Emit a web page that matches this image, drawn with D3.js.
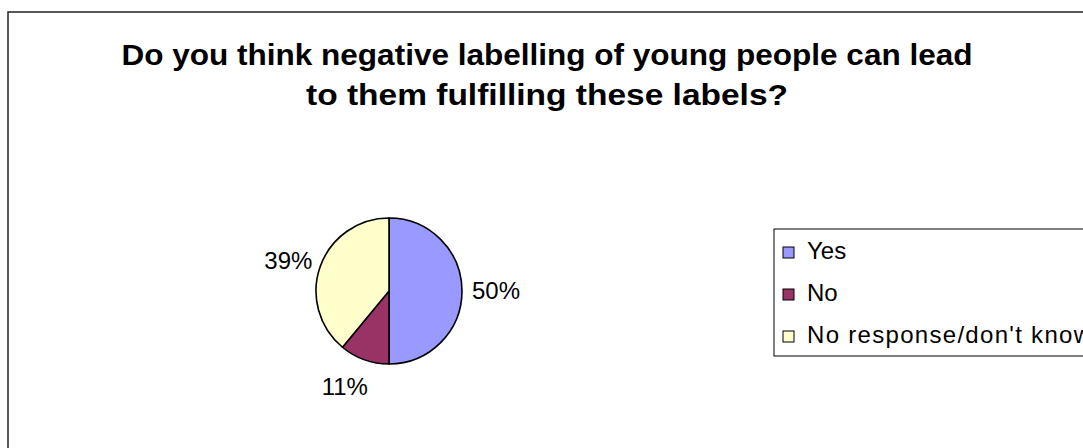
<!DOCTYPE html>
<html>
<head>
<meta charset="utf-8">
<script src="https://cdn.jsdelivr.net/npm/d3@7"></script>
<style>
  html, body { margin: 0; padding: 0; background: #fff; }
  svg { display: block; }
  text { font-family: "Liberation Sans", Arial, Helvetica, sans-serif; fill: #000; }
</style>
</head>
<body>
<svg id="chart" width="1083" height="448"></svg>
<script>
// Survey responses
const categories = ["Yes", "No", "No response/don't know"];
const values = [50, 11, 39];
const colors = ["#9999FF", "#993366", "#FFFFCC"];
const titleLines = [
  "Do you think negative labelling of young people can lead",
  "to them fulfilling these labels?"
];
// rendered widths of the two title lines
const titleWidths = [851, 482];

const svg = d3.select("#chart");

// Chart area frame (runs off the right and bottom edges)
svg.append("rect")
  .attr("x", 8).attr("y", 12)
  .attr("width", 1200).attr("height", 600)
  .attr("fill", "#fff")
  .attr("stroke", "#222")
  .attr("stroke-width", 1.5);

// Title
svg.append("g")
  .selectAll("text")
  .data(titleLines)
  .join("text")
  .attr("x", 547)
  .attr("y", (d, i) => 65 + i * 40)
  .attr("text-anchor", "middle")
  .attr("textLength", (d, i) => titleWidths[i])
  .attr("lengthAdjust", "spacingAndGlyphs")
  .style("font-weight", "bold")
  .style("font-size", "30px")
  .text(d => d);

// Pie
const cx = 389, cy = 291, r = 73;
const pie = d3.pie().sort(null).value(d => d.value);
const arcs = pie(categories.map((c, i) => ({ name: c, value: values[i], color: colors[i] })));
const arc = d3.arc().innerRadius(0).outerRadius(r);
const labelArc = d3.arc().innerRadius(r + 34).outerRadius(r + 34);

const g = svg.append("g").attr("transform", `translate(${cx},${cy})`);
g.selectAll("path")
  .data(arcs)
  .join("path")
  .attr("d", arc)
  .attr("fill", d => d.data.color)
  .attr("stroke", "#000")
  .attr("stroke-width", 1.6)
  .attr("stroke-linejoin", "round");

const total = d3.sum(values);
g.selectAll("text.lbl")
  .data(arcs)
  .join("text")
  .attr("class", "lbl")
  .attr("transform", d => {
    const [x, y] = labelArc.centroid(d);
    // push labels a little further along the vertical for lower/left slices
    return `translate(${x + (x < -20 && y > 0 ? -8 : 0)},${y + (x < -60 ? 6 : 0) - (y > 60 ? 5 : 0)})`;
  })
  .attr("text-anchor", "middle")
  .attr("dy", "0.35em")
  .style("font-size", "24px")
  .text(d => Math.round(d.data.value / total * 100) + "%");

// Legend
const legend = svg.append("g");
legend.append("rect")
  .attr("x", 774).attr("y", 229)
  .attr("width", 400).attr("height", 127)
  .attr("fill", "#fff")
  .attr("stroke", "#000")
  .attr("stroke-width", 1);

const items = legend.selectAll("g.item")
  .data(arcs)
  .join("g")
  .attr("class", "item")
  .attr("transform", (d, i) => `translate(783,${247 + i * 42})`);
items.append("rect")
  .attr("width", 11).attr("height", 11)
  .attr("fill", d => d.data.color)
  .attr("stroke", "#000")
  .attr("stroke-width", 1);
items.append("text")
  .attr("x", 24).attr("y", 12)
  .style("font-size", "24px")
  .style("letter-spacing", (d, i) => i === 2 ? "1.3px" : null)
  .text(d => d.data.name);
</script>
</body>
</html>
